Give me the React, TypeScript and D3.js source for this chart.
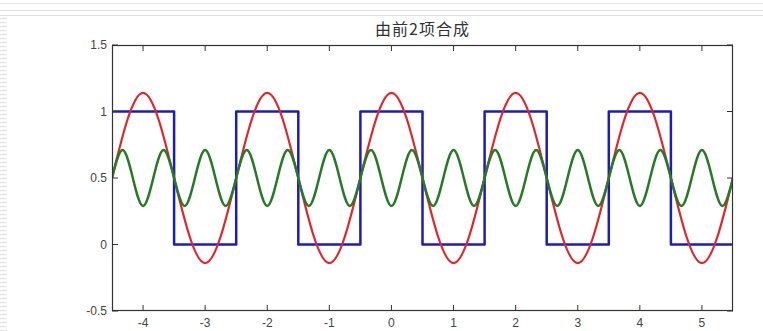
import * as d3 from 'd3'

// square wave (blue): edges and levels
const squareX = [-4.5, -3.5, -2.5, -1.5, -0.5, 0.5, 1.5, 2.5, 3.5, 4.5, 5.5]
const squareY = [1, 0, 1, 0, 1, 0, 1, 0, 1, 0, 0]

// fundamental (red): end points and extrema
const redX = [-4.5, -4, -3, -2, -1, 0, 1, 2, 3, 4, 5, 5.5]
const redY = [0.5, 1.14, -0.14, 1.14, -0.14, 1.14, -0.14, 1.14, -0.14, 1.14, -0.14, 0.5]

// third harmonic (green): end points and extrema
const greenX = [-4.5, -4.33, -4, -3.67, -3.33, -3, -2.67, -2.33, -2, -1.67, -1.33, -1, -0.67, -0.33, 0,
  0.33, 0.67, 1, 1.33, 1.67, 2, 2.33, 2.67, 3, 3.33, 3.67, 4, 4.33, 4.67, 5, 5.33, 5.5]
const greenY = [0.5, 0.71, 0.29, 0.71, 0.29, 0.71, 0.29, 0.71, 0.29, 0.71, 0.29, 0.71, 0.29, 0.71, 0.29,
  0.71, 0.29, 0.71, 0.29, 0.71, 0.29, 0.71, 0.29, 0.71, 0.29, 0.71, 0.29, 0.71, 0.29, 0.71, 0.29, 0.5]

const xTicks = [-4, -3, -2, -1, 0, 1, 2, 3, 4, 5]
const yTicks = [-0.5, 0, 0.5, 1, 1.5]
const title = '由前2项合成'

export default function App() {
  const width = 763, height = 331
  const left = 112, right = 733, top = 45, bottom = 311

  const x = d3.scaleLinear().domain([-4.5, 5.5]).range([left, right])
  const y = d3.scaleLinear().domain([-0.5, 1.5]).range([bottom, top])

  const pts = (xs: number[], ys: number[]) => xs.map((v, i) => [v, ys[i]] as [number, number])

  const stepLine = d3.line<[number, number]>().x(d => x(d[0])).y(d => y(d[1])).curve(d3.curveStepAfter)
  const smooth = d3.line<[number, number]>().x(d => x(d[0])).y(d => y(d[1])).curve(d3.curveMonotoneX)

  const stripes = d3.range(18, height, 4)

  return (
    <svg width={width} height={height} style={{ position: 'absolute', left: 0, top: 0, background: '#fff' }}
      fontFamily="Arial, 'Liberation Sans', sans-serif">
      {/* slide decoration */}
      {[3, 10, 15].map(v => (
        <line key={v} x1={0} x2={width} y1={v + 0.5} y2={v + 0.5} stroke="#e2e2e2" />
      ))}
      {stripes.map(v => (
        <line key={v} x1={0} x2={7} y1={v + 0.5} y2={v + 0.5} stroke="#e4e4e4" strokeWidth={1.5} />
      ))}

      <text x={(left + right) / 2} y={35} textAnchor="middle" fontSize={16} letterSpacing={1} fill="#333"
        fontFamily="'Noto Sans CJK SC', sans-serif">{title}</text>

      <clipPath id="plot">
        <rect x={left} y={top} width={right - left} height={bottom - top} />
      </clipPath>

      <g clipPath="url(#plot)" fill="none" strokeLinejoin="round">
        <path d={stepLine(pts(squareX, squareY)) ?? ''} stroke="#1c1cb8" strokeWidth={2.5} />
        <path d={smooth(pts(redX, redY)) ?? ''} stroke="#e0262a" strokeWidth={2.2} />
        <path d={smooth(pts(greenX, greenY)) ?? ''} stroke="#267a26" strokeWidth={2.5} />
      </g>

      {/* axes box */}
      <rect x={left + 0.5} y={top + 0.5} width={right - left - 1} height={bottom - top - 1}
        fill="none" stroke="#333" strokeWidth={1.2} />

      {xTicks.map(t => (
        <g key={t}>
          <line x1={x(t)} x2={x(t)} y1={bottom} y2={bottom - 6} stroke="#333" />
          <line x1={x(t)} x2={x(t)} y1={top} y2={top + 6} stroke="#333" />
          <text x={x(t)} y={bottom + 16} textAnchor="middle" fontSize={12} fill="#444">{t}</text>
        </g>
      ))}
      {yTicks.map(t => (
        <g key={t}>
          <line x1={left} x2={left + 6} y1={y(t)} y2={y(t)} stroke="#333" />
          <line x1={right} x2={right - 6} y1={y(t)} y2={y(t)} stroke="#333" />
          <text x={left - 5} y={y(t) + 4} textAnchor="end" fontSize={12} fill="#444">{t}</text>
        </g>
      ))}
    </svg>
  )
}
